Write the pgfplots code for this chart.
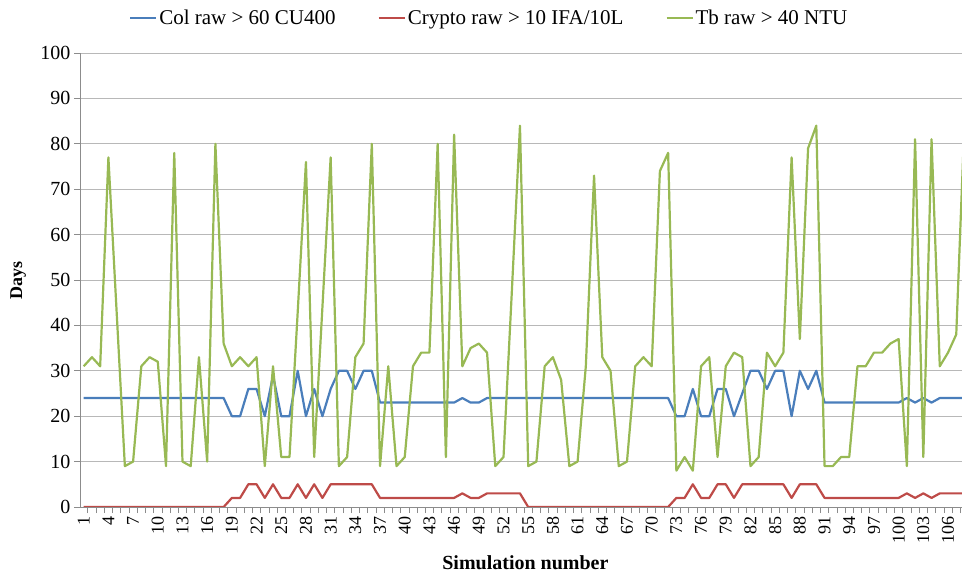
\documentclass[border=0pt]{standalone}
\usepackage{fontspec}
\setmainfont{Liberation Serif}
\usepackage{pgfplots}
\pgfplotsset{compat=1.18}
\usepackage{pgfplotstable}
\definecolor{colblue}{HTML}{4A7EBB}
\definecolor{cryred}{HTML}{BE4B48}
\definecolor{tbgreen}{HTML}{98B954}
\definecolor{gridgray}{HTML}{B8B8B8}
\definecolor{axgray}{HTML}{8C8C8C}
\pgfplotstableread{
x col cry tb
1 24 0 31
2 24 0 33
3 24 0 31
4 24 0 77
5 24 0 43
6 24 0 9
7 24 0 10
8 24 0 31
9 24 0 33
10 24 0 32
11 24 0 9
12 24 0 78
13 24 0 10
14 24 0 9
15 24 0 33
16 24 0 10
17 24 0 80
18 24 0 36
19 20 2 31
20 20 2 33
21 26 5 31
22 26 5 33
23 20 2 9
24 29 5 31
25 20 2 11
26 20 2 11
27 30 5 43
28 20 2 76
29 26 5 11
30 20 2 44
31 26 5 77
32 30 5 9
33 30 5 11
34 26 5 33
35 30 5 36
36 30 5 80
37 23 2 9
38 23 2 31
39 23 2 9
40 23 2 11
41 23 2 31
42 23 2 34
43 23 2 34
44 23 2 80
45 23 2 11
46 23 2 82
47 24 3 31
48 23 2 35
49 23 2 36
50 24 3 34
51 24 3 9
52 24 3 11
53 24 3 47
54 24 3 84
55 24 0 9
56 24 0 10
57 24 0 31
58 24 0 33
59 24 0 28
60 24 0 9
61 24 0 10
62 24 0 31
63 24 0 73
64 24 0 33
65 24 0 30
66 24 0 9
67 24 0 10
68 24 0 31
69 24 0 33
70 24 0 31
71 24 0 74
72 24 0 78
73 20 2 8
74 20 2 11
75 26 5 8
76 20 2 31
77 20 2 33
78 26 5 11
79 26 5 31
80 20 2 34
81 25 5 33
82 30 5 9
83 30 5 11
84 26 5 34
85 30 5 31
86 30 5 34
87 20 2 77
88 30 5 37
89 26 5 79
90 30 5 84
91 23 2 9
92 23 2 9
93 23 2 11
94 23 2 11
95 23 2 31
96 23 2 31
97 23 2 34
98 23 2 34
99 23 2 36
100 23 2 37
101 24 3 9
102 23 2 81
103 24 3 11
104 23 2 81
105 24 3 31
106 24 3 34
107 24 3 38
108 24 3 85
}\data

\begin{document}
\begin{tikzpicture}
\useasboundingbox (0,0) rectangle (962bp,575bp);
\begin{axis}[
  at={(80bp,68bp)}, anchor=south west,
  scale only axis, width=882bp, height=454bp,
  xmin=0.55, xmax=107.7, ymin=0, ymax=100,
  axis x line=bottom, axis y line=left,
  axis line style={axgray, line width=0.8bp, -},
  xtick={1,4,...,106},
  minor xtick={0.5,1.5,...,107.5},
  ytick={0,10,...,100},
  tick align=outside,
  major tick length=6bp, minor tick length=6bp,
  every tick/.style={axgray, line width=0.7bp},
  x tick style={draw=none},
  minor x tick style={draw=axgray, line width=0.7bp},
  ymajorgrids, grid style={gridgray, line width=0.9bp},
  /pgf/number format/assume math mode=true,
  xticklabel style={rotate=90, anchor=east, font=\fontsize{18bp}{20bp}\selectfont},
  yticklabel style={font=\fontsize{20bp}{23bp}\selectfont},
  xlabel={Simulation number}, ylabel={Days},
  xlabel style={at={(rel axis cs:0.505,-0.123)}, anchor=center, font=\bfseries\fontsize{20bp}{24bp}\selectfont},
  ylabel style={at={(rel axis cs:-0.07,0.5)}, anchor=center, font=\bfseries\fontsize{18bp}{22bp}\selectfont},
  legend columns=3,
  legend style={draw=none, fill=none, at={(rel axis cs:0.464,1.077)}, anchor=center,
    font=\fontsize{21bp}{24bp}\selectfont,
    /tikz/every even column/.append style={column sep=40bp},
    inner sep=0pt},
  legend image code/.code={\draw[#1] (0bp,0bp) -- (26bp,0bp);},
  legend cell align=left,
]
\addplot[colblue, line width=2.2bp, no marks, line join=round] table[x=x,y=col]{\data};
\addlegendentry{Col raw > 60 CU400}
\addplot[cryred, line width=2.2bp, no marks, line join=round] table[x=x,y=cry]{\data};
\addlegendentry{Crypto raw > 10 IFA/10L}
\addplot[tbgreen, line width=2.2bp, no marks, line join=round] table[x=x,y=tb]{\data};
\addlegendentry{Tb raw > 40 NTU}
\end{axis}
\end{tikzpicture}
\end{document}
